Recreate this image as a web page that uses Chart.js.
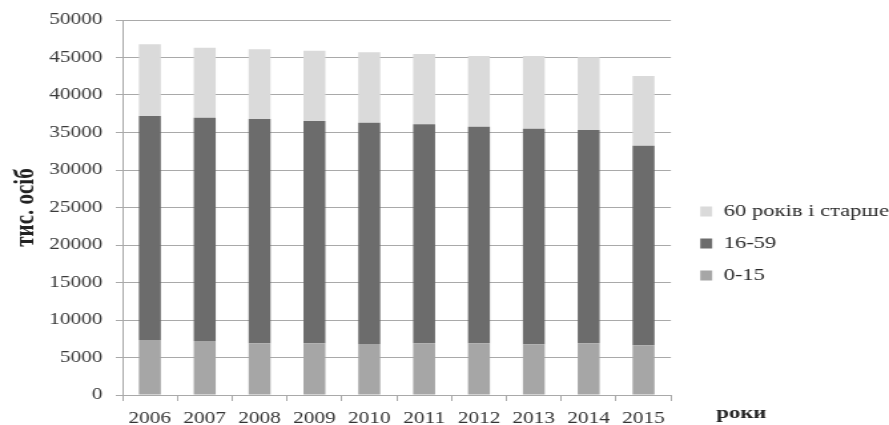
<!DOCTYPE html>
<html>
<head>
<meta charset="utf-8">
<script src="https://cdn.jsdelivr.net/npm/chart.js@4"></script>
<style>
    html, body { margin: 0; padding: 0; background: #fff; overflow: hidden; }
    /* the scan is stretched sideways, so the canvas is drawn narrow and widened by css */
    #popChart { display: block; width: 889px !important; height: 425px !important; }
</style>
</head>
<body>
<canvas id="popChart" width="668" height="425"></canvas>
<script>
// Population of Ukraine by age group, thousand persons
const years = ['2006', '2007', '2008', '2009', '2010', '2011', '2012', '2013', '2014', '2015'];
const age0to15 = [7330, 7200, 6890, 6890, 6800, 6890, 6890, 6760, 6890, 6630];
const age16to59 = [29870, 29770, 29910, 29640, 29510, 29200, 28880, 28750, 28440, 26610];
const age60plus = [9560, 9340, 9290, 9380, 9380, 9380, 9430, 9690, 9700, 9290];
const yTicks = [0, 5000, 10000, 15000, 20000, 25000, 30000, 35000, 40000, 45000, 50000];

const SERIF = '"Liberation Serif", "DejaVu Serif", serif';
const GRID = '#a9a9a9';

// nudges the legend away from the plot and down beside it, and writes the x-axis caption
const sidePlugin = {
    id: 'sideBits',
    afterLayout(chart) {
        const lg = chart.legend;
        if (!lg) return;
        lg.left += 7; lg.right += 7;
        lg.top += 168; lg.bottom += 168;
    },
    afterDraw(chart) {
        const c = chart.ctx;
        c.save();
        c.font = 'bold 17px ' + SERIF;
        c.fillStyle = '#222';
        c.textAlign = 'center';
        c.textBaseline = 'middle';
        c.fillText('роки', 557, 414);
        c.restore();
    }
};

new Chart(document.getElementById('popChart'), {
    type: 'bar',
    data: {
        labels: years,
        datasets: [
            { label: '0-15', data: age0to15, backgroundColor: '#a6a6a6' },
            { label: '16-59', data: age16to59, backgroundColor: '#6c6c6c' },
            { label: '60 років і старше', data: age60plus, backgroundColor: '#dadada' }
        ]
    },
    options: {
        responsive: false,
        animation: false,
        events: [],
        layout: { padding: { top: 20, right: -3, left: 0, bottom: 0 } },
        datasets: { bar: { categoryPercentage: 1, barPercentage: 0.4 } },
        plugins: {
            tooltip: { enabled: false },
            legend: {
                position: 'right',
                align: 'start',
                reverse: true,
                labels: {
                    boxWidth: 9,
                    boxHeight: 10,
                    padding: 15,
                    color: '#2a2a2a',
                    font: { family: SERIF, size: 17 }
                }
            }
        },
        scales: {
            x: {
                stacked: true,
                afterFit: s => { s.height = 30; },
                grid: { display: true, drawOnChartArea: false, tickLength: 6, color: GRID, offset: true },
                border: { display: true, color: GRID },
                ticks: { color: '#333', padding: 8, font: { family: SERIF, size: 16 } }
            },
            y: {
                stacked: true,
                min: 0,
                max: 50000,
                afterFit: s => { s.width = 92; },
                afterBuildTicks: s => { s.ticks = yTicks.map(v => ({ value: v })); },
                grid: { color: GRID, tickLength: 5 },
                border: { display: true, color: GRID },
                ticks: { color: '#3a3a3a', padding: 10, font: { family: SERIF, size: 16 }, callback: v => String(v) },
                title: {
                    display: true,
                    text: 'тис. осіб',
                    color: '#222',
                    padding: { top: 7, bottom: 0 },
                    font: { family: SERIF, size: 21, weight: 'bold' }
                }
            }
        }
    },
    plugins: [sidePlugin]
});
</script>
</body>
</html>
